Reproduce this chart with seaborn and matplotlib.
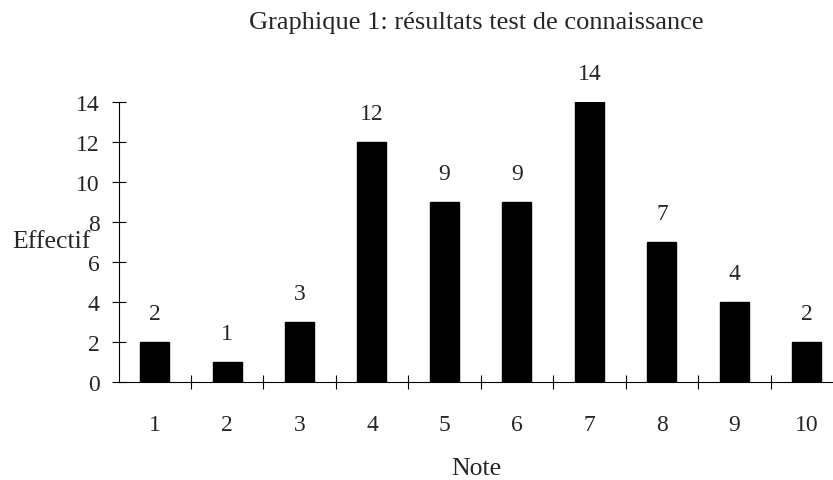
import matplotlib
matplotlib.use("Agg")
import matplotlib.pyplot as plt
import seaborn as sns
import pandas as pd

notes = ["1", "2", "3", "4", "5", "6", "7", "8", "9", "10"]
effectifs = [2, 1, 3, 12, 9, 9, 14, 7, 4, 2]
y_ticks = [0, 2, 4, 6, 8, 10, 12, 14]

sns.set_theme(style="white")
plt.rcParams["font.family"] = ["Liberation Serif", "DejaVu Serif"]

df = pd.DataFrame({"Note": notes, "Effectif": effectifs})

fig = plt.figure(figsize=(8.33, 4.81), dpi=100)
ax = fig.add_axes([119 / 833, 1 - 383 / 481, 1 - 119 / 833, 280 / 481])

sns.barplot(data=df, x="Note", y="Effectif", order=notes, color="black",
            width=0.4, saturation=1, ax=ax)
for patch in ax.patches:
    patch.set_edgecolor("black")

ax.bar_label(ax.containers[0], padding=13, fontsize=17)

ax.set_xlim(-0.49, 9.36)
ax.set_ylim(0, 14)
ax.set_yticks(y_ticks)
ax.set_yticklabels([str(v) for v in y_ticks])

# ticks between categories, labels at centers
ax.set_xticks([i + 0.5 for i in range(len(notes) - 1)])
ax.set_xticklabels([])
ax.set_xticks(range(len(notes)), minor=True)
ax.set_xticklabels(notes, minor=True)
ax.tick_params(axis="x", which="major", direction="inout", length=10, width=0.8,
               color="black", bottom=True)
ax.tick_params(axis="x", which="minor", length=0, pad=23, labelsize=17)
ax.tick_params(axis="y", direction="inout", length=10, width=0.8, color="black",
               left=True, pad=9, labelsize=17)

sns.despine(ax=ax, top=True, right=True)
for side in ["left", "bottom"]:
    ax.spines[side].set_color("black")
    ax.spines[side].set_linewidth(0.8)

ax.set_xlabel("Note", fontsize=18.5)
ax.xaxis.set_label_coords(0.5, -(469 - 383) / 280)
ax.xaxis.label.set_va("center")
ax.set_ylabel("Effectif", fontsize=18.5, rotation=0, ha="center", va="center")
ax.yaxis.set_label_coords(-(119 - 51) / 714, (383 - 242) / 280)

fig.text((119 + 833) / 2 / 833, 1 - 23 / 481,
         "Graphique 1: résultats test de connaissance",
         ha="center", va="center", fontsize=19)

fig.savefig("out.png", dpi=100)
